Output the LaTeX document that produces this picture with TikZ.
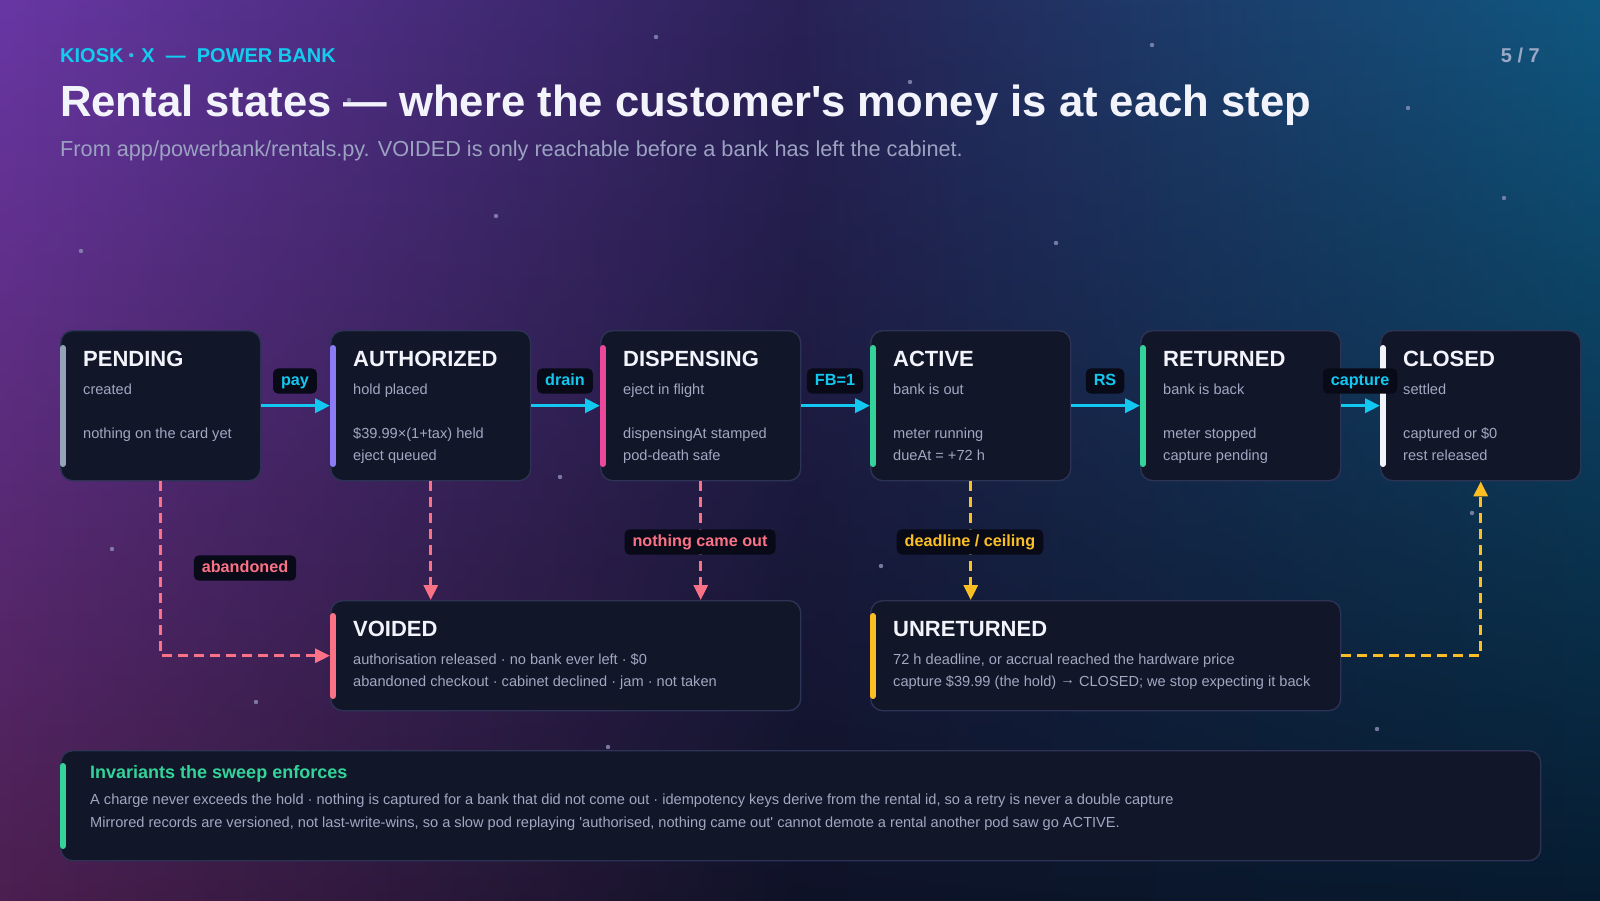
\documentclass[tikz,border=0pt]{standalone}
\usepackage{fontspec}
\setmainfont{Liberation Sans}
\newfontfamily\plainsans{Liberation Sans}
\usetikzlibrary{arrows.meta,fadings}
\definecolor{bgTL}{HTML}{6B38A8}
\definecolor{bgTM}{HTML}{2A2258}
\definecolor{bgTR}{HTML}{0F5A82}
\definecolor{bgBL}{HTML}{4D1F4F}
\definecolor{bgBM}{HTML}{0E1226}
\definecolor{bgBR}{HTML}{061A2E}
\definecolor{boxfill}{HTML}{121629}
\definecolor{boxline}{HTML}{2C3354}
\definecolor{titlec}{HTML}{F3F4FB}
\definecolor{bodyc}{HTML}{A2A7C2}
\definecolor{flowc}{HTML}{12C8F0}
\definecolor{lblbg}{HTML}{080A18}
\definecolor{rosec}{HTML}{FB7185}
\definecolor{ambc}{HTML}{FBBF24}
\definecolor{greenc}{HTML}{34D399}
\definecolor{slatec}{HTML}{94A3B8}
\definecolor{violc}{HTML}{8B7CF6}
\definecolor{pinkc}{HTML}{EC4899}
\definecolor{whitec}{HTML}{F1F5F9}
\definecolor{headc}{HTML}{12CDF0}
\definecolor{subc}{HTML}{9CA2C2}
\definecolor{pagec}{HTML}{9AA8C6}
\definecolor{starc}{HTML}{8E90B8}
\tikzfading[name=fadebottom, top color=transparent!100, bottom color=transparent!0]
\tikzset{
  statebox/.style={draw=boxline, line width=1.4pt, fill=boxfill, rounded corners=12pt, anchor=north west, inner sep=0pt, minimum width=200pt, minimum height=150pt},
  widebox/.style={statebox, minimum width=470pt, minimum height=110pt},
  accent/.style={line width=6pt, line cap=round},
  sttitle/.style={anchor=base west, inner sep=0pt, text=titlec, font=\bfseries\fontsize{22}{22}\selectfont},
  stbody/.style={anchor=base west, inner sep=0pt, text=bodyc, font=\fontsize{14.6}{14.6}\selectfont},
  flow/.style={draw=flowc, line width=3.5pt, -{Triangle[length=15pt,width=14pt]}},
  reddash/.style={draw=rosec, line width=3pt, dash pattern=on 10pt off 6pt, -{Triangle[length=15pt,width=14pt]}},
  yeldash/.style={draw=ambc, line width=3pt, dash pattern=on 10pt off 6pt, -{Triangle[length=15pt,width=14pt]}},
  lbl/.style={fill=lblbg, rounded corners=5pt, inner xsep=8pt, inner ysep=5pt, text height=11.8pt, text depth=3.4pt, font=\bfseries\fontsize{16.2}{16.2}\selectfont},
  star/.style={fill=starc, opacity=0.8},
}
\newcommand\stbox[8]{%
  \begin{scope}[shift={(#2,#3)}]
    \node[statebox] (#1) at (0,0) {};
    \draw[accent, draw=#4] (3,18) -- (3,134);
    \node[sttitle] (#1-t) at (23,36) {#5};
    \node[stbody] (#1-a) at (23,64) {#6};
    \node[stbody] (#1-c) at (23,108) {#7};
    \node[stbody] (#1-d) at (23,130) {#8};
  \end{scope}}
\begin{document}
\begin{tikzpicture}[x=1pt,y=-1pt]
\useasboundingbox (0,0) rectangle (1600,900);
% background
\fill[bgBM] (-20,-20) rectangle (1620,920);
\shade[left color=bgTL, right color=bgTR, middle color=bgTM] (-20,-20) rectangle (1620,920);
\shade[left color=bgBL, right color=bgBR, middle color=bgBM, path fading=fadebottom] (-20,-20) rectangle (1620,920);
% stars
\foreach \sx/\sy in {656/37, 910/82, 1152/45, 1408/108, 1504/198, 496/216, 1056/243, 81/251, 560/477, 112/549, 881/566, 1472/513, 256/702, 608/747, 1377/729, 131/55, 349/100}
  \fill[star] (\sx,\sy) circle (2.2pt);
% header
\node[anchor=base west, inner sep=0pt, text=headc, font=\bfseries\fontsize{20}{20}\selectfont] (kicker) at (60,62) {KIOSK · X \ —\ \ POWER BANK};
\node[anchor=base east, inner sep=0pt, text=pagec, font=\bfseries\fontsize{20}{20}\selectfont] (page) at (1540,62) {5 / 7};
\node[anchor=base west, inner sep=0pt, text=titlec, font=\plainsans\bfseries\fontsize{43.6}{43.6}\selectfont] (title) at (60,116) {Rental states — where the customer's money is at each step};
\node[anchor=base west, inner sep=0pt, text=subc, font=\fontsize{21.7}{21.7}\selectfont] (subtitle) at (60,156) {From app/powerbank/rentals.py. VOIDED is only reachable before a bank has left the cabinet.};
% states
\stbox{pend}{60}{330}{slatec}{PENDING}{created}{nothing on the card yet}{}
\stbox{auth}{330}{330}{violc}{AUTHORIZED}{hold placed}{\$39.99×(1+tax) held}{eject queued}
\stbox{disp}{600}{330}{pinkc}{DISPENSING}{eject in flight}{dispensingAt stamped}{pod-death safe}
\stbox{act}{870}{330}{greenc}{ACTIVE}{bank is out}{meter running}{dueAt = +72 h}
\stbox{ret}{1140}{330}{greenc}{RETURNED}{bank is back}{meter stopped}{capture pending}
\stbox{clos}{1380}{330}{whitec}{CLOSED}{settled}{captured or \$0}{rest released}
% lower boxes
\node[widebox] (void) at (330,600) {};
\draw[accent, draw=rosec] (333,616) -- (333,696);
\node[sttitle] (void-t) at (353,636) {VOIDED};
\node[stbody] (void-a) at (353,664) {authorisation released · no bank ever left · \$0};
\node[stbody] (void-b) at (353,686) {abandoned checkout · cabinet declined · jam · not taken};
\node[widebox] (unret) at (870,600) {};
\draw[accent, draw=ambc] (873,616) -- (873,696);
\node[sttitle] (unret-t) at (893,636) {UNRETURNED};
\node[stbody] (unret-a) at (893,664) {72 h deadline, or accrual reached the hardware price};
\node[stbody] (unret-b) at (893,686) {capture \$39.99 (the hold) \raisebox{1.5pt}{→} CLOSED; we stop expecting it back};
% flows
\draw[flow] (pend.east) -- (auth.west);
\draw[flow] (auth.east) -- (disp.west);
\draw[flow] (disp.east) -- (act.west);
\draw[flow] (act.east) -- (ret.west);
\draw[flow] (ret.east) -- (clos.west);
\draw[reddash] (pend.south) -- (pend.south |- void.west) -- (void.west);
\draw[reddash] (auth.south) -- (auth.south |- void.north);
\draw[reddash] (disp.south) -- (disp.south |- void.north);
\draw[yeldash] (act.south) -- (act.south |- unret.north);
\draw[yeldash] (unret.east) -- (unret.east -| clos.south) -- (clos.south);
% labels
\node[lbl, text=flowc] (l-pay) at (295,381) {pay};
\node[lbl, text=flowc] (l-drain) at (565,381) {drain};
\node[lbl, text=flowc] (l-fb) at (835,381) {FB=1};
\node[lbl, text=flowc] (l-rs) at (1105,381) {RS};
\node[lbl, text=flowc] (l-cap) at (1360,381) {capture};
\node[lbl, text=rosec] (l-aband) at (245,568) {abandoned};
\node[lbl, text=rosec] (l-nothing) at (700,542) {nothing came out};
\node[lbl, text=ambc] (l-dead) at (970,542) {deadline / ceiling};
% invariants panel
\node[statebox, minimum width=1480pt, minimum height=110pt] (inv) at (60,750) {};
\draw[accent, draw=greenc] (63,766) -- (63,846);
\node[anchor=base west, inner sep=0pt, text=greenc, font=\bfseries\fontsize{18}{18}\selectfont] (inv-t) at (90,778) {Invariants the sweep enforces};
\node[stbody] (inv-a) at (90,804) {A charge never exceeds the hold · nothing is captured for a bank that did not come out · idempotency keys derive from the rental id, so a retry is never a double capture};
\node[stbody, font=\plainsans\fontsize{14.6}{14.6}\selectfont] (inv-b) at (90,827) {Mirrored records are versioned, not last-write-wins, so a slow pod replaying 'authorised, nothing came out' cannot demote a rental another pod saw go ACTIVE.};
\end{tikzpicture}
\end{document}
